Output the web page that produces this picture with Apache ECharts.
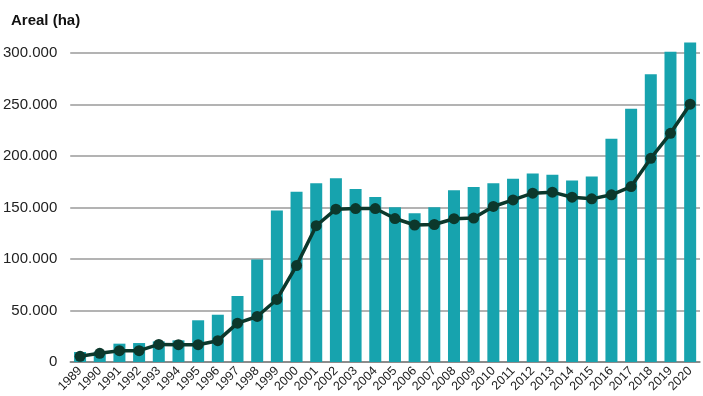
<!DOCTYPE html>
<html><head><meta charset="utf-8">
<script src="https://cdn.jsdelivr.net/npm/echarts@6/dist/echarts.min.js"></script>
<style>html,body{margin:0;padding:0;background:#fff}#c{width:703px;height:396px}</style>
</head><body><div id="c"></div>
<script>
const years = ['1989','1990','1991','1992','1993','1994','1995','1996','1997','1998','1999','2000','2001','2002','2003','2004','2005','2006','2007','2008','2009','2010','2011','2012','2013','2014','2015','2016','2017','2018','2019','2020'];
const barValues = [9700,10000,17800,18400,20000,21000,40500,45900,64100,99500,147000,165300,173500,178300,168000,160200,150200,144300,150200,166700,170000,173600,177800,182900,181900,176100,180000,216800,245800,279400,301300,310300];
const lineValues = [5500,8400,11000,11000,17100,16800,16800,20700,37700,44200,60700,93600,132300,148400,149000,149000,139300,133000,133500,139100,139700,151000,157400,163900,164900,160000,158400,162300,170300,197800,222000,250300];
const yTicks = [0,50000,100000,150000,200000,250000,300000];
const yTitle = 'Areal (ha)';

const chart = echarts.init(document.getElementById('c'));
chart.setOption({
  animation:false,
  textStyle:{fontFamily:'Liberation Sans, Arial, sans-serif'},
  title:{text:yTitle,left:6,top:8,textStyle:{fontSize:15,fontWeight:'bold',color:'#111',fontFamily:'Liberation Sans, Arial, sans-serif'}},
  grid:{left:70,right:3,top:53,bottom:34},
  xAxis:{type:'category',data:years,
    axisLine:{lineStyle:{color:'#808080',width:1.5}},
    axisTick:{show:false},
    axisLabel:{rotate:45,fontSize:12.5,color:'#222',margin:7,interval:0}},
  yAxis:{type:'value',min:yTicks[0],max:yTicks[yTicks.length-1],interval:50000,
    axisLine:{show:false},axisTick:{show:false},
    splitLine:{lineStyle:{color:'#9a9a9a',width:1.5}},
    axisLabel:{fontSize:15,color:'#222',margin:13,
      formatter:v=>v===0?'0':v.toString().replace(/\B(?=(\d{3})+(?!\d))/g,'.')}},
  series:[
    {type:'bar',data:barValues,barWidth:12,clip:false,itemStyle:{color:'#17a3ae'}},
    {type:'line',data:lineValues,clip:false,symbol:'circle',symbolSize:11,
      lineStyle:{color:'#0c382c',width:3.5},itemStyle:{color:'#0c382c'}}
  ]
});
</script></body></html>
